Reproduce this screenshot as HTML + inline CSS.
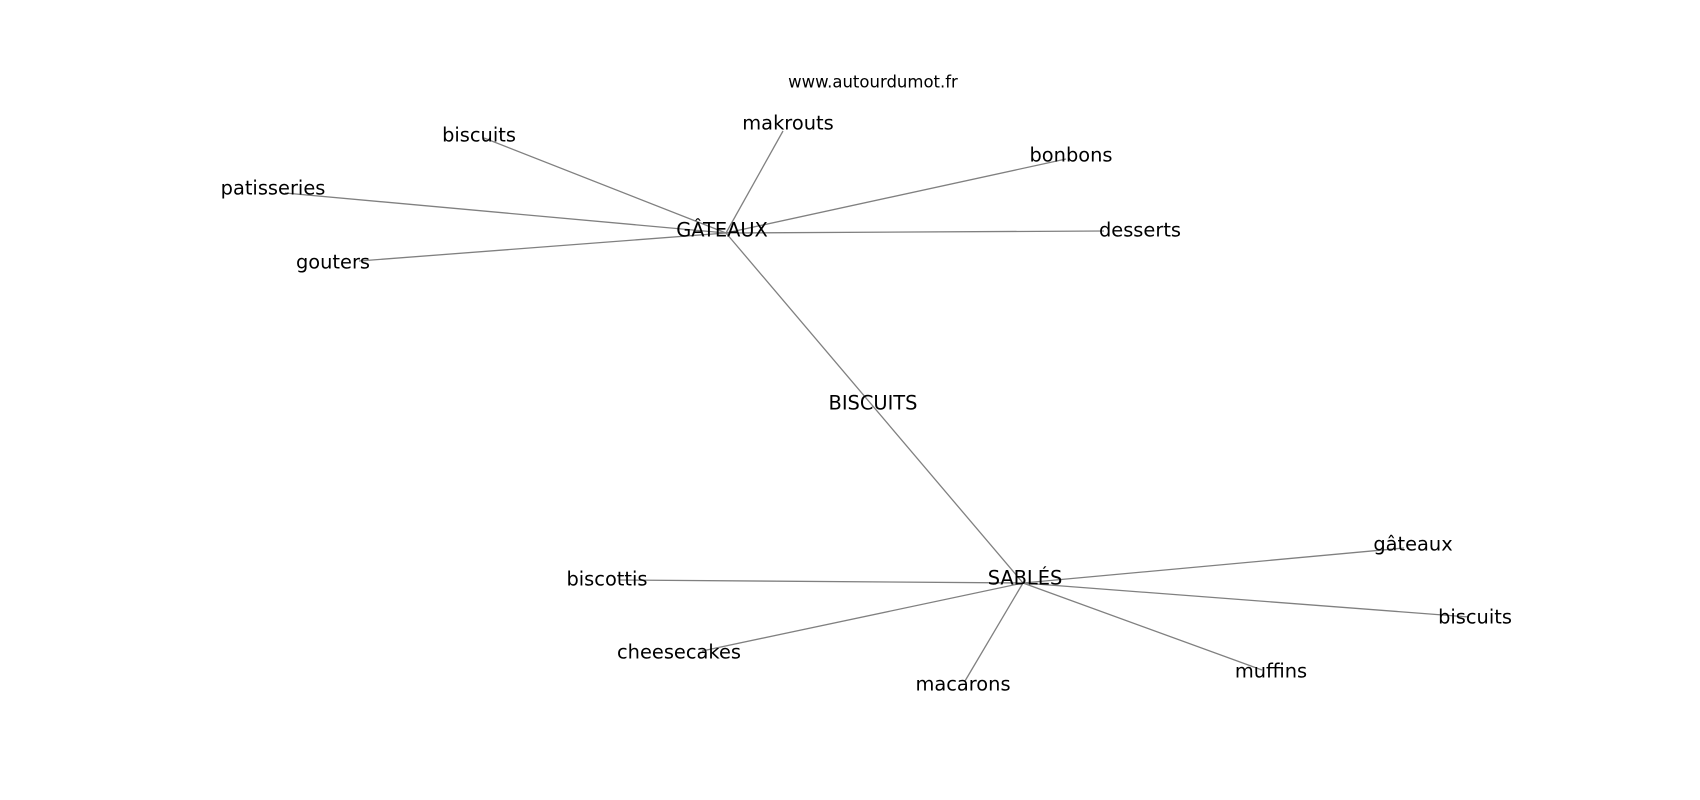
<!DOCTYPE html>
<html><head><meta charset="utf-8"><style>
html,body{margin:0;padding:0;background:#fff;}
svg{display:block;}
text{font-family:"DejaVu Sans","Liberation Sans",sans-serif;fill:#000;}
</style></head><body>
<svg width="1700" height="800" viewBox="0 0 1700 800" xmlns="http://www.w3.org/2000/svg">
<g stroke="#808080" stroke-width="1.3" fill="none">
<line x1="726" y1="233" x2="484" y2="138"/>
<line x1="726" y1="233" x2="285" y2="193"/>
<line x1="726" y1="233" x2="359" y2="261"/>
<line x1="726" y1="233" x2="783" y2="131"/>
<line x1="726" y1="233" x2="1066" y2="159"/>
<line x1="726" y1="233" x2="1104" y2="231"/>
<line x1="726" y1="233" x2="1023" y2="583"/>
<line x1="1023" y1="583" x2="620" y2="580"/>
<line x1="1023" y1="583" x2="702" y2="651"/>
<line x1="1023" y1="583" x2="965" y2="681"/>
<line x1="1023" y1="583" x2="1262" y2="670"/>
<line x1="1023" y1="583" x2="1469" y2="617"/>
<line x1="1023" y1="583" x2="1404" y2="548"/>
</g>
<g font-size="19.4" text-anchor="middle" dominant-baseline="central">
<text x="873" y="82" font-size="16.5">www.autourdumot.fr</text>
<text x="479" y="135">biscuits</text>
<text x="273" y="188">patisseries</text>
<text x="333" y="262">gouters</text>
<text x="788" y="123">makrouts</text>
<text x="1071" y="155">bonbons</text>
<text x="1140" y="230">desserts</text>
<text x="722" y="230">GÂTEAUX</text>
<text x="873" y="403">BISCUITS</text>
<text x="1025" y="578">SABLÉS</text>
<text x="607" y="579">biscottis</text>
<text x="679" y="652">cheesecakes</text>
<text x="963" y="684">macarons</text>
<text x="1271" y="671">muffins</text>
<text x="1475" y="617">biscuits</text>
<text x="1413" y="544">gâteaux</text>
</g>
</svg>
</body></html>
